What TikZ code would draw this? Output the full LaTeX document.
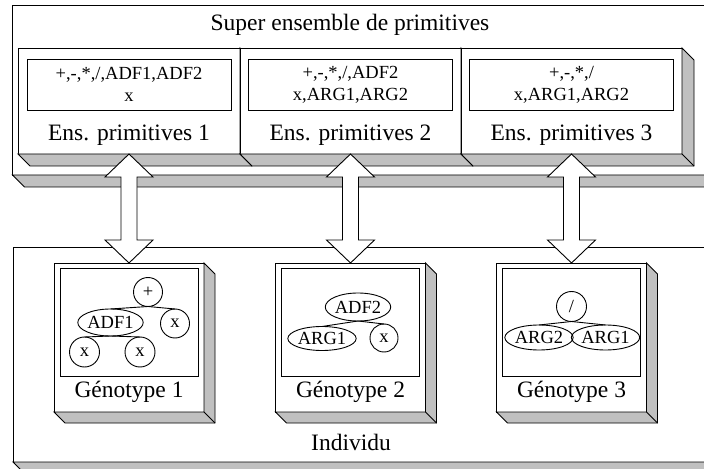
\documentclass[tikz,border=0pt]{standalone}
\usepackage{fontspec}
\setmainfont{Liberation Serif}
\usetikzlibrary{calc,shapes.geometric}

\definecolor{shadegray}{RGB}{192,192,192}
\newcommand\bigtxt{\fontsize{23.5bp}{28bp}\selectfont}
\newcommand\smalltxt{\fontsize{18.5bp}{22bp}\selectfont}

% grey side and bottom faces of a raised box
\newcommand\slab[2]{%
  \filldraw[sidefill] (#1.north east) -- ++(#2,#2) -- ($(#1.south east)+(#2,#2)$)
    -- ($(#1.south west)+(#2,#2)$) -- (#1.south west) -- (#1.south east) -- cycle;
  \draw (#1.south east) -- ++(#2,#2);}

% hollow two-headed arrow between two boxes
\newcommand\link[2]{%
  \draw[blockarrow] (#1.south) -- ++(24,23) -- ++(-16,0) -- ($(#2.north)+(8,-23)$)
    -- ++(16,0) -- (#2.north) -- ++(-24,-23) -- ++(16,0) -- ($(#1.south)+(-8,23)$)
    -- ++(-16,0) -- cycle;}

\begin{document}
\begin{tikzpicture}[x=1bp,y=-1bp,line width=0.9bp,
  frontbox/.style={draw,fill=white,rectangle,inner sep=0,outer sep=0,anchor=north west},
  sidefill/.style={draw,fill=shadegray,line join=miter},
  listbox/.style={draw,fill=white,rectangle,inner sep=0,outer sep=0,
    minimum width=204bp,minimum height=51bp,align=center,font=\smalltxt,anchor=north},
  bigtext/.style={inner sep=0,font=\bigtxt},
  oval/.style={draw,ellipse,inner sep=0,outer sep=0,minimum width=63bp,
    minimum height=26bp,font=\smalltxt},
  ring/.style={draw,circle,inner sep=0,outer sep=0,minimum size=29bp,font=\smalltxt},
  treeedge/.style={draw},
  blockarrow/.style={draw,fill=white,line join=miter},
  genbox/.style={frontbox,minimum width=150bp,minimum height=149bp},
  genpanel/.style={draw,fill=white,rectangle,inner sep=0,outer sep=0,anchor=north,
    minimum width=138bp,minimum height=108bp},
  ensbox/.style={frontbox,minimum height=106bp}]

\useasboundingbox (0,0) rectangle (704,469);
\clip (0,0) rectangle (704,469);

% outer container of primitive sets
\node[frontbox,minimum width=740bp,minimum height=170bp] (super) at (12.5,5) {};
\slab{super}{12}
\node[bigtext] (supertitle) at (350,25) {Super ensemble de primitives};

% the three primitive sets
\node[ensbox,minimum width=222bp] (e1) at (18,48) {};
\slab{e1}{12}
\node[ensbox,minimum width=221bp] (e2) at (240,48) {};
\slab{e2}{12}
\node[ensbox,minimum width=221bp] (e3) at (461,48) {};
\slab{e3}{12}

\node[listbox] (t1) at ($(e1.north)+(0,11)$) {+,-,*,/,ADF1,ADF2\\x};
\node[listbox] (t2) at ($(e2.north)+(0,11)$) {+,-,*,/,ADF2\\x,ARG1,ARG2};
\node[listbox] (t3) at ($(e3.north)+(0,11)$) {+,-,*,/\\x,ARG1,ARG2};

\node[bigtext] (l1) at ($(e1.south)+(0,-19)$) {Ens. primitives 1};
\node[bigtext] (l2) at ($(e2.south)+(0,-19)$) {Ens. primitives 2};
\node[bigtext] (l3) at ($(e3.south)+(0,-19)$) {Ens. primitives 3};

% individual
\node[frontbox,minimum width=740bp,minimum height=215bp] (indiv) at (13,247) {};
\slab{indiv}{11}
\node[bigtext] (indivtitle) at (351,442) {Individu};

% genotypes
\node[genbox] (g1) at (54,263) {};
\slab{g1}{11}
\node[genbox] (g2) at (275.5,263) {};
\slab{g2}{11}
\node[genbox] (g3) at (496.5,263) {};
\slab{g3}{11}

\node[genpanel] (p1) at ($(g1.north)+(0,5)$) {};
\node[genpanel] (p2) at ($(g2.north)+(0,5)$) {};
\node[genpanel] (p3) at ($(g3.north)+(0,5)$) {};

\node[bigtext] (gl1) at ($(g1.south)+(0,-20)$) {Génotype 1};
\node[bigtext] (gl2) at ($(g2.south)+(0,-20)$) {Génotype 2};
\node[bigtext] (gl3) at ($(g3.south)+(0,-20)$) {Génotype 3};

% tree of genotype 1
\node[ring] (a0) at (148,292) {+};
\node[oval,minimum width=61bp,minimum height=27bp] (a1) at (110.5,322.5) {ADF1};
\node[ring] (a2) at (175,323.5) {x};
\node[ring,minimum size=30bp] (a3) at (84.5,352) {x};
\node[ring,minimum size=30bp] (a4) at (140,352) {x};
\draw[treeedge] (a0.south) -- (a1.north);
\draw[treeedge] (a0.south) -- (a2.north);
\draw[treeedge] (a1.south) -- (a3.north);
\draw[treeedge] (a1.south) -- (a4.north);

% tree of genotype 2
\node[oval,minimum width=64bp,minimum height=28bp] (b0) at (358,307) {ADF2};
\node[oval,minimum width=64bp,minimum height=24bp] (b1) at (322,338.5) {ARG1};
\node[ring,minimum size=28bp] (b2) at (384,338) {x};
\draw[treeedge] (b0.south) -- (b1.north);
\draw[treeedge] (b0.south) -- (b2.north);

% tree of genotype 3
\node[ring,minimum size=30bp] (c0) at (571.5,306.5) {/};
\node[oval,minimum width=66bp,minimum height=25bp] (c1) at (539,337.5) {ARG2};
\node[oval,minimum width=66bp,minimum height=25bp] (c2) at (605.5,337.5) {ARG1};
\draw[treeedge] (c0.south) -- (c1.north);
\draw[treeedge] (c0.south) -- (c2.north);

% exchanges between primitive sets and genotypes
\link{e1}{g1}
\link{e2}{g2}
\link{e3}{g3}
\end{tikzpicture}
\end{document}
